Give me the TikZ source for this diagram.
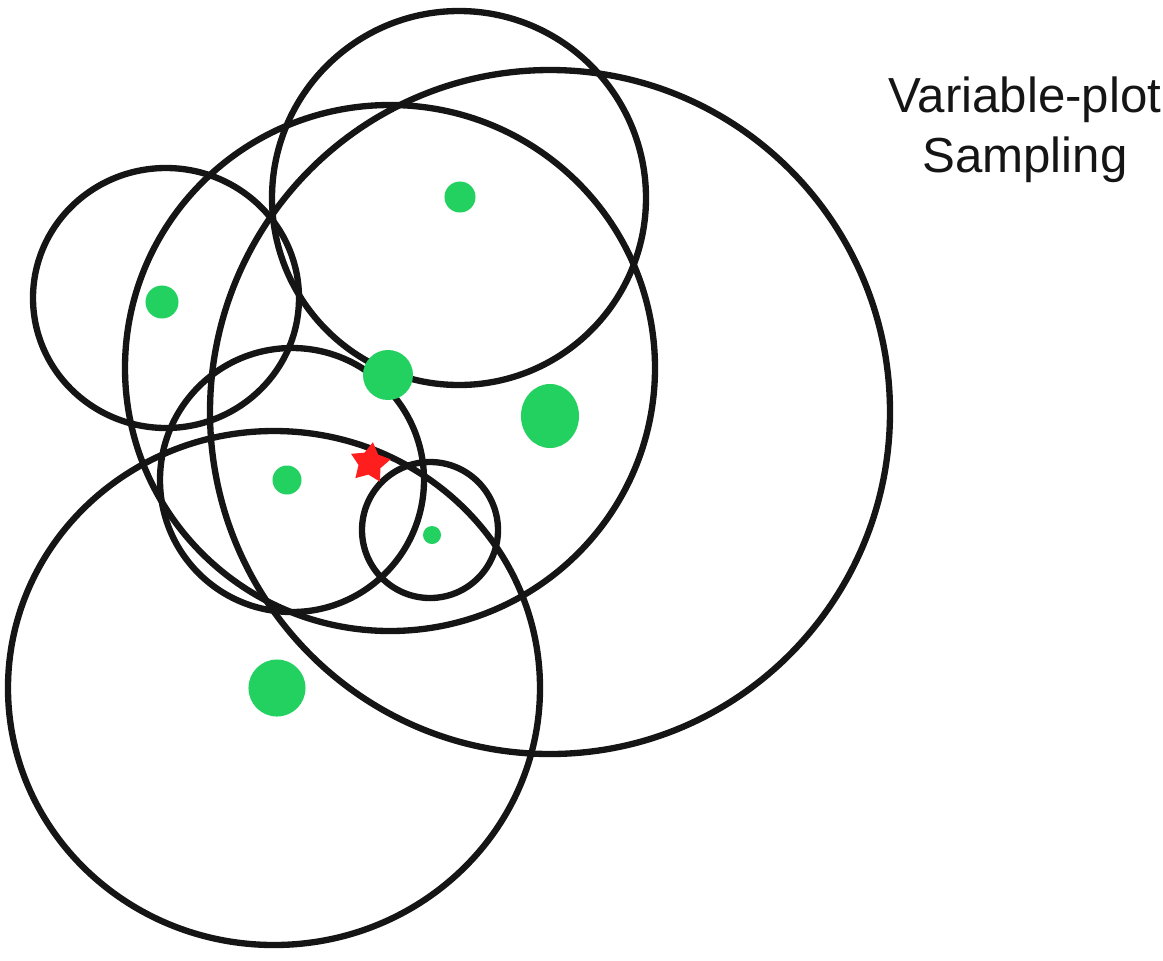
\documentclass[tikz,border=0pt]{standalone}
\usepackage{fontspec}
\setmainfont{Liberation Sans}
\usetikzlibrary{shapes,positioning}
\definecolor{ink}{HTML}{151515}
\definecolor{plotgreen}{HTML}{22D160}
\definecolor{markred}{HTML}{FF1E1E}

\begin{document}
\begin{tikzpicture}[x=0.01cm, y=-0.01cm]
    \tikzstyle{ring}   = [draw=ink, line width=1.8pt]
    \tikzstyle{plot}   = [circle, fill=plotgreen, inner sep=0pt]
    \tikzstyle{target} = [star, star points=5, star point ratio=1.8, fill=markred, inner sep=0pt, minimum size=0.42cm, rotate=-8]
    \tikzstyle{title}  = [font=\fontsize{14}{17}\selectfont, text=ink, align=center]

    \useasboundingbox (0,0) rectangle (1163,960);

    % Sampling circles
    \draw [ring] (550,412) ellipse (340 and 342);
    \draw [ring] (459,198) ellipse (187 and 187);
    \draw [ring] (166,298) ellipse (133 and 130);
    \draw [ring] (390,368) ellipse (265 and 263);
    \draw [ring] (292,480) ellipse (132 and 132);
    \draw [ring] (430,530) ellipse (68 and 68);
    \draw [ring] (274,688) ellipse (266 and 257);

    % Plots
    \node [plot, minimum size=0.31cm] (p1) at (460,197) {};
    \node [plot, minimum size=0.33cm] (p2) at (162,302) {};
    \node [plot, minimum size=0.50cm] (p3) at (388,375) {};
    \node [plot, ellipse, minimum width=0.58cm, minimum height=0.64cm] (p4) at (550,416) {};
    \node [plot, minimum size=0.29cm] (p5) at (287,480) {};
    \node [plot, minimum size=0.18cm] (p6) at (432,535) {};
    \node [plot, minimum size=0.57cm] (p7) at (277,688) {};

    \node [target] (mark) at (370,463) {};

    \node [title] (name) at (1025,130) {Variable-plot\\Sampling};
\end{tikzpicture}
\end{document}
